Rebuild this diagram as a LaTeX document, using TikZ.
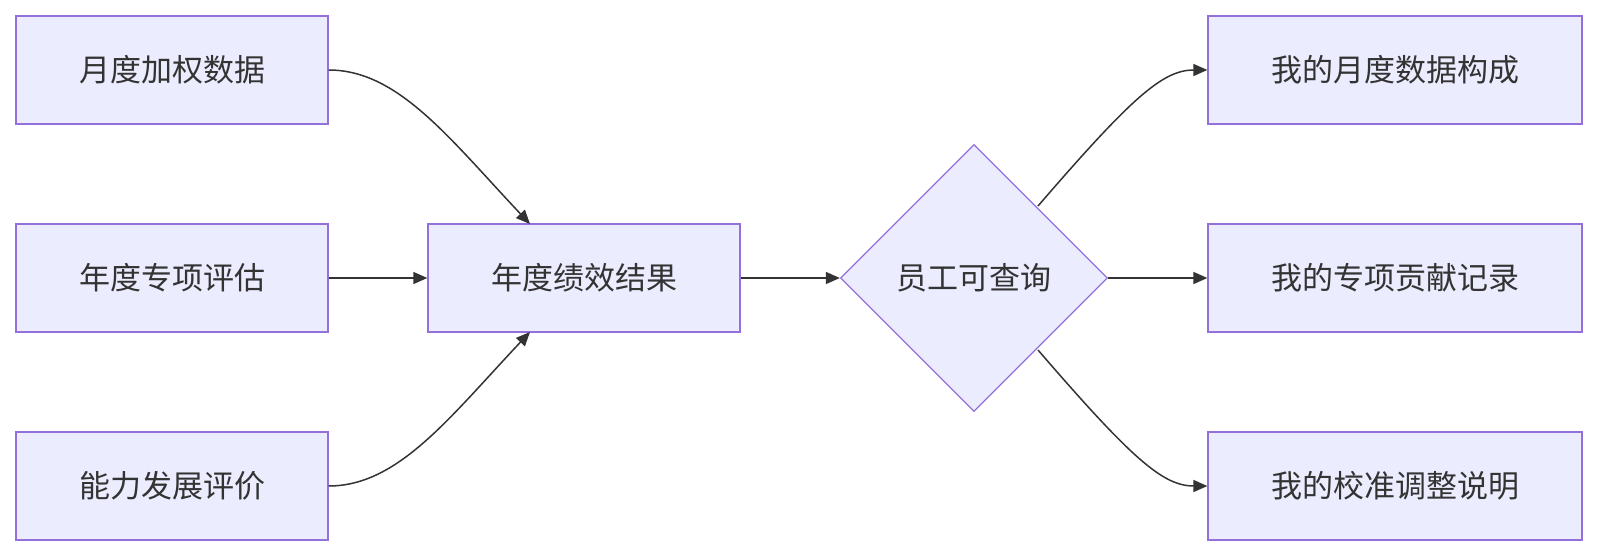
\documentclass[tikz,border=0pt]{standalone}
\usepackage{fontspec}
\setmainfont{Noto Sans CJK SC}
\usetikzlibrary{shapes.geometric,arrows.meta}
\definecolor{nfill}{HTML}{ECECFF}
\definecolor{nstroke}{HTML}{9370DB}
\definecolor{edge}{HTML}{333333}
\begin{document}%
\begin{tikzpicture}[x=1pt,y=-1pt,
  box/.style={draw=nstroke,fill=nfill,line width=1.3pt,minimum width=312pt,minimum height=108pt,inner sep=0pt,font=\fontsize{31}{36}\selectfont,text=edge},
  rbox/.style={box,minimum width=374pt},
  dia/.style={diamond,draw=nstroke,fill=nfill,line width=1.3pt,minimum width=267pt,minimum height=267pt,inner sep=0pt,font=\fontsize{31}{36}\selectfont,text=edge},
  arr/.style={draw=edge,line width=1.5pt,-{Triangle[length=14pt,width=12pt]}}]
\node[box] (a) at (172,70) {月度加权数据};
\node[box] (b) at (172,278) {年度专项评估};
\node[box] (c) at (172,486) {能力发展评价};
\node[box] (m) at (584,278) {年度绩效结果};
\node[dia] (d) at (974,278) {员工可查询};
\node[rbox] (r1) at (1395,70) {我的月度数据构成};
\node[rbox] (r2) at (1395,278) {我的专项贡献记录};
\node[rbox] (r3) at (1395,486) {我的校准调整说明};
\coordinate (mt) at (530,224);
\coordinate (mb) at (530,332);
\coordinate (dt) at (1038,206);
\coordinate (db) at (1038,350);
\draw[arr] (a.east) .. controls (398,70) and (449,138) .. (mt);
\draw[arr] (c.east) .. controls (398,486) and (449,418) .. (mb);
\draw[arr] (b.east) -- (m.west);
\draw[arr] (m.east) -- (d.west);
\draw[arr] (d.east) -- (r2.west);
\draw[arr] (dt) .. controls (1132,97) and (1163,70) .. (r1.west);
\draw[arr] (db) .. controls (1132,459) and (1163,486) .. (r3.west);
\pgfresetboundingbox
\useasboundingbox (0,0) rectangle (1600,556);
\end{tikzpicture}%
\end{document}
